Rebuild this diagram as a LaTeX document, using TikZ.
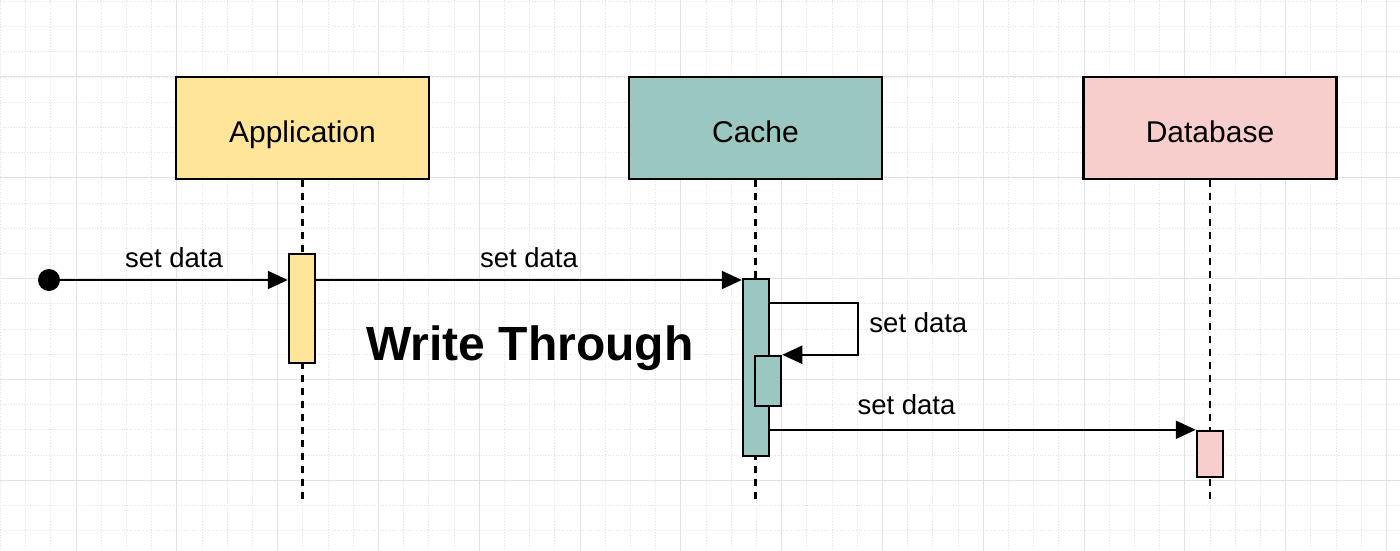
\documentclass[tikz,border=0pt]{standalone}
\usepackage{fontspec}
\setmainfont{Liberation Sans}
\usetikzlibrary{arrows.meta}
\definecolor{appyellow}{HTML}{FEE599}
\definecolor{cachegreen}{HTML}{9AC7BF}
\definecolor{dbpink}{HTML}{F8CECC}
\definecolor{gridgray}{HTML}{E2E2E2}
\begin{document}
\begin{tikzpicture}
    [x=1pt, y=-1pt,
     minor line/.style={gridgray, line width=0.7pt, dotted},
     major line/.style={gridgray, line width=1pt},
     lifebox/.style={draw, line width=2.5pt, minimum width=253pt, minimum height=102pt,
       text height=28pt, text depth=0pt, font=\fontsize{30}{36}\selectfont},
     act/.style={draw, line width=2.5pt, minimum width=26pt, inner sep=0pt},
     life line/.style={line width=2.5pt, dash pattern=on 7pt off 6pt},
     msg/.style={line width=2.3pt, -{Triangle[length=20pt, width=18pt]}},
     msg label/.style={font=\fontsize{27.5}{32}\selectfont, inner sep=0pt, anchor=base}]
    \useasboundingbox (0, 0) rectangle (1400, 551);
    \fill[white] (0, 0) rectangle (1400, 551);
    % grid
    \foreach \i in {-3, ..., 53} {
      \draw[minor line] ({76 + 25.2*\i}, 0) -- ++(0, 551);
    }
    \foreach \i in {-3, ..., 20} {
      \draw[minor line] (0, {77 + 25.2*\i}) -- ++(1400, 0);
    }
    \foreach \i in {0, ..., 13} \draw[major line] ({76 + 100.8*\i}, 0) -- ++(0, 551);
    \foreach \i in {-1, ..., 4} \draw[major line] (0, {77 + 100.8*\i}) -- ++(1400, 0);
    % participants
    \node[lifebox, fill=appyellow] (app) at (302.5, 128) {Application};
    \node[lifebox, fill=cachegreen] (cache) at (755.5, 128) {Cache};
    \node[lifebox, fill=dbpink] (db) at (1210, 128) {Database};
    \coordinate (end) at (0, 504);
    \draw[life line] (app.south) -- (app.south |- end);
    \draw[life line] (cache.south) -- (cache.south |- end);
    \draw[life line] (db.south) -- (db.south |- end);
    % activations
    \node[act, fill=appyellow, minimum height=109pt] (appact) at (302, 308.5) {};
    \node[act, fill=cachegreen, minimum height=177pt] (cacheact) at (756, 367.5) {};
    \node[act, fill=cachegreen, minimum height=50pt] (cacheself) at (768, 381) {};
    \node[act, fill=dbpink, minimum height=46pt] (dbact) at (1210, 454) {};
    \node[circle, fill, inner sep=0pt, minimum size=22pt] (start) at (49, 280) {};
    % messages
    \draw[msg] (start) -- (start -| appact.west)
      node[midway, yshift=13pt, msg label] {set data};
    \draw[msg] (start -| appact.east) -- (start -| cacheact.west)
      node[midway, yshift=13pt, msg label] {set data};
    \draw[msg] ([yshift=-25pt]cacheact.north east) -- ++(88, 0) coordinate (loop)
      |- (cacheself.north east);
    \node[msg label, anchor=base west] (looplabel) at ([xshift=11pt, yshift=-30pt]loop) {set data};
    \draw[msg] (cacheact.east |- dbact.north west) -- (dbact.north west)
      node[pos=0.32, yshift=15pt, msg label] {set data};
    \node[font=\fontsize{48}{54}\selectfont\bfseries, anchor=base] (title) at (530, 360) {Write Through};
  \end{tikzpicture}
\end{document}
